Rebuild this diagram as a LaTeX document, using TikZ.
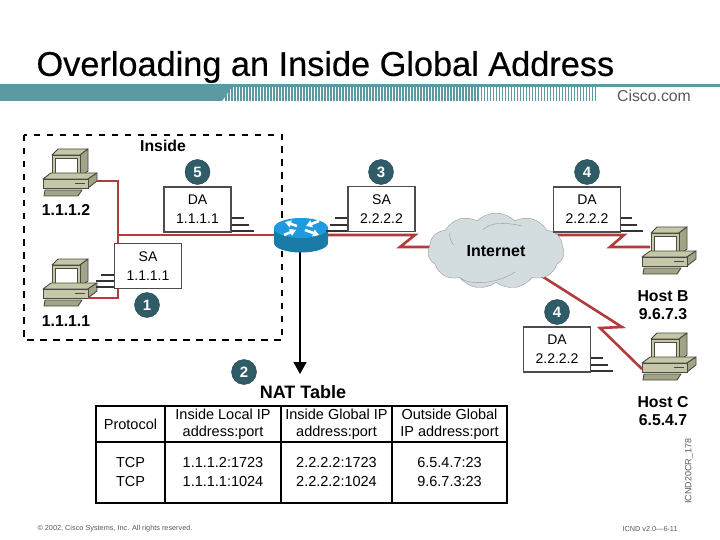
\documentclass[tikz,border=0pt]{standalone}
\usepackage{fontspec}
\setmainfont{Liberation Sans}
\usetikzlibrary{arrows.meta,shapes.symbols}
\definecolor{ciscoteal}{HTML}{5B9AA2}
\definecolor{linkred}{HTML}{B23B3B}
\definecolor{badgeteal}{HTML}{2F5C66}
\definecolor{cloudgrey}{HTML}{D3DCDF}
\definecolor{pcface}{HTML}{C6C6A8}
\definecolor{pcside}{HTML}{A3A387}
\definecolor{pcedge}{HTML}{4A4A40}
\definecolor{routertop}{HTML}{1E9BDF}
\definecolor{routerbody}{HTML}{1A7BA6}
\tikzset{
  pc/.pic={
    \draw[pcedge, line width=0.9pt, fill=pcface, line join=round] (25,34) -- (33,28) -- (50,28) -- (50,33) -- (43,34) -- cycle;
    \draw[pcedge, line width=0.9pt, fill=pcface, line join=round] (17,10) -- (23,4) -- (53,4) -- (45,10) -- cycle;
    \draw[pcedge, line width=0.9pt, fill=pcside, line join=round] (45,10) -- (53,4) -- (53,26) -- (45,32) -- cycle;
    \draw[pcedge, line width=0.9pt, fill=pcface] (17,10) rectangle (45,32);
    \draw[pcedge, line width=0.9pt, fill=white] (20,13) rectangle (42,29);
    \draw[pcedge, line width=0.9pt, fill=pcface, line join=round] (8,34) -- (16,28) -- (62,28) -- (53,34) -- cycle;
    \draw[pcedge, line width=0.9pt, fill=pcside, line join=round] (53,34) -- (62,28) -- (62,36) -- (53,43) -- cycle;
    \draw[pcedge, line width=0.9pt, fill=pcface] (8,34) rectangle (53,43);
    \draw[pcedge] (40,38) -- (50,38);
    \draw[pcedge, line width=0.9pt, fill=pcside, line join=round] (10,45) -- (47,45) -- (43,51) -- (9,51) -- cycle;
    \coordinate (-east) at (62,36);
    \coordinate (-foot) at (53,43);
    \coordinate (-screen) at (16,24);
    \coordinate (-front) at (8,40);
  },
  link/.style={linkred, line width=2.6pt, line join=miter},
  frame/.style={draw=black, line width=1.8pt, dash pattern=on 6.5pt off 6.5pt},
  addr/.style={draw=black!70, line width=1.1pt, fill=white, minimum width=67pt, minimum height=45pt, inner sep=0pt, align=center, font=\fontsize{14}{19}\selectfont},
  tick/.style={black!80, line width=1.1pt},
  badge/.style={circle, draw=badgeteal!70!black, fill=badgeteal, text=white, minimum size=25pt, inner sep=0pt, font=\fontsize{15}{15}\selectfont\bfseries},
  tag/.style={align=center, font=\fontsize{15.8}{18}\selectfont\bfseries},
  cell/.style={draw=black, line width=1.5pt, inner sep=0pt, align=center},
  headcell/.style={cell, minimum height=36pt, font=\fontsize{14.5}{17}\selectfont},
  bodycell/.style={cell, minimum height=61pt, font=\fontsize{14.5}{19}\selectfont},
  foot/.style={text=black!65, font=\fontsize{7.3}{8}\selectfont},
  xarrow/.style={white, line width=2.6pt, -{Triangle[width=7pt,length=6pt]}}
}
\begin{document}
\begin{tikzpicture}[>={Triangle[width=13pt,length=12pt]}, x=1pt, y=-1pt]
        \useasboundingbox (0,0) rectangle (720,540);
        \node[anchor=west, font=\fontsize{34.3}{35}\selectfont\addfontfeature{FakeBold=0.4}] (title) at (33,67) {Overloading an Inside Global Address};

        \fill[ciscoteal] (0,84) rectangle (720,87);
        \fill[ciscoteal] (0,87) -- (232,87) -- (222,101) -- (0,101) -- cycle;
        \foreach \x in {226,229,...,597} {
            \pgfmathsetmacro{\w}{2.5*(600-\x)/300}
            \pgfmathsetmacro{\wmax}{min(\w,2)}
            \draw[ciscoteal, line width=\wmax pt] (\x,87) -- (\x,101);
        }
        \node[text=black!65, font=\fontsize{15.8}{16}\selectfont] (logo) at (654,96) {Cisco.com};

        \draw[frame] (24,135) rectangle (282,340);
        \node[tag] (inside) at (163,146) {Inside};

        \pic (pcA) at (35,145) {pc};
        \pic (pcD) at (35,255) {pc};
        \pic (pcB) at (634,223) {pc};
        \pic (pcC) at (634,329) {pc};

        \coordinate (router) at (300,235);
        \coordinate (inet) at (496,247);

        \draw[link] (pcA-east) -- (118,181) -- (118,235) -- (router);
        \draw[link] (pcD-foot) -- (118,298) -- (118,235);
        \draw[link] (router) -- (415,235) -- (400,247) -- (inet);
        \draw[link] (inet) -- (510,235) -- (624,235) -- (610,247) -- (pcB-screen);
        \draw[link] (inet) -- (622,327) -- (600,328) -- (pcC-front);
        \draw[->, line width=1.5pt] (router) -- (300,374);

        \fill[routerbody] (274,228) -- (274,243) arc[start angle=180, end angle=0, x radius=27, y radius=9.5] -- (328,228) -- cycle;
        \fill[routertop] (301,228) ellipse[x radius=27, y radius=10];
        \draw[xarrow] (297,226) -- (285,222);
        \draw[xarrow] (305,230) -- (319,235);
        \draw[xarrow] (319,221) -- (306,226);
        \draw[xarrow] (284,235) -- (296,230);

        \node[cloud, cloud puffs=11, cloud puff arc=90, aspect=1.8, draw=black!40, fill=cloudgrey, minimum width=136pt, minimum height=76pt, inner sep=0pt, font=\fontsize{16}{16}\selectfont\bfseries] (internet) at (496,251) {Internet};
        \draw[black!40] (483,230) .. controls (490,222) and (505,222) .. (522,226);
        \draw[black!40] (450,232) .. controls (449,238) and (451,242) .. (454,245);
        \draw[black!40] (460,278) .. controls (470,285) and (495,285) .. (515,272);

        \node[addr] (daFive) at (197.5,209.5) {DA\\1.1.1.1};
        \node[addr] (saOne) at (148,266) {SA\\1.1.1.1};
        \node[addr] (saThree) at (381.5,209) {SA\\2.2.2.2};
        \node[addr] (daFour) at (587,209.5) {DA\\2.2.2.2};
        \node[addr] (daFourB) at (557,349.5) {DA\\2.2.2.2};

        \draw[tick] (daFive.east |- 0,218) -- +(12,0);
        \draw[tick] (daFive.east |- 0,225) -- +(17,0);
        \draw[tick] (daFive.east |- 0,231) -- +(22,0);
        \draw[tick] (saOne.west |- 0,275) -- +(-13,0);
        \draw[tick] (saOne.west |- 0,281) -- +(-18,0);
        \draw[tick] (saOne.west |- 0,287) -- +(-18,0);
        \draw[tick] (saThree.west |- 0,218) -- +(-12,0);
        \draw[tick] (saThree.west |- 0,225) -- +(-17,0);
        \draw[tick] (saThree.west |- 0,231) -- +(-21,0);
        \draw[tick] (daFour.east |- 0,218) -- +(11,0);
        \draw[tick] (daFour.east |- 0,225) -- +(16,0);
        \draw[tick] (daFour.east |- 0,231) -- +(22,0);
        \draw[tick] (daFourB.east |- 0,358) -- +(12,0);
        \draw[tick] (daFourB.east |- 0,365) -- +(17,0);
        \draw[tick] (daFourB.east |- 0,371) -- +(22,0);

        \node[badge] (stepFive) at (197.5,172) {5};
        \node[badge] (stepOne) at (147,305) {1};
        \node[badge] (stepThree) at (381,172) {3};
        \node[badge] (stepFour) at (587,172) {4};
        \node[badge] (stepFourB) at (557,312) {4};
        \node[badge] (stepTwo) at (244,372) {2};

        \node[tag] (addrA) at (66,210) {1.1.1.2};
        \node[tag] (addrD) at (66,321) {1.1.1.1};
        \node[tag] (hostB) at (663,305) {Host B\\9.6.7.3};
        \node[tag] (hostC) at (663,411) {Host C\\6.5.4.7};

        \node[tag, font=\fontsize{18}{18}\selectfont\bfseries] (nat) at (303,392) {NAT Table};
        \node[headcell, minimum width=69pt] (hProto) at (130.5,424) {Protocol};
        \node[headcell, minimum width=116pt] (hLocal) at (223,424) {Inside Local IP\\address:port};
        \node[headcell, minimum width=111pt] (hGlobal) at (336.5,424) {Inside Global IP\\address:port};
        \node[headcell, minimum width=115pt] (hOutside) at (449.5,424) {Outside Global\\IP address:port};
        \node[bodycell, minimum width=69pt] (bProto) at (130.5,472.5) {TCP\\TCP};
        \node[bodycell, minimum width=116pt] (bLocal) at (223,472.5) {1.1.1.2:1723\\1.1.1.1:1024};
        \node[bodycell, minimum width=111pt] (bGlobal) at (336.5,472.5) {2.2.2.2:1723\\2.2.2.2:1024};
        \node[bodycell, minimum width=115pt] (bOutside) at (449.5,472.5) {6.5.4.7:23\\9.6.7.3:23};

        \node[foot, anchor=west] (copy) at (34,529) {© 2002, Cisco Systems, Inc. All rights reserved.};
        \node[foot, anchor=west] (course) at (619,529) {ICND v2.0—6-11};
        \node[foot, rotate=90, font=\fontsize{9}{9}\selectfont] (figid) at (689,471) {ICND20CR\_178};
    \end{tikzpicture}
\end{document}
